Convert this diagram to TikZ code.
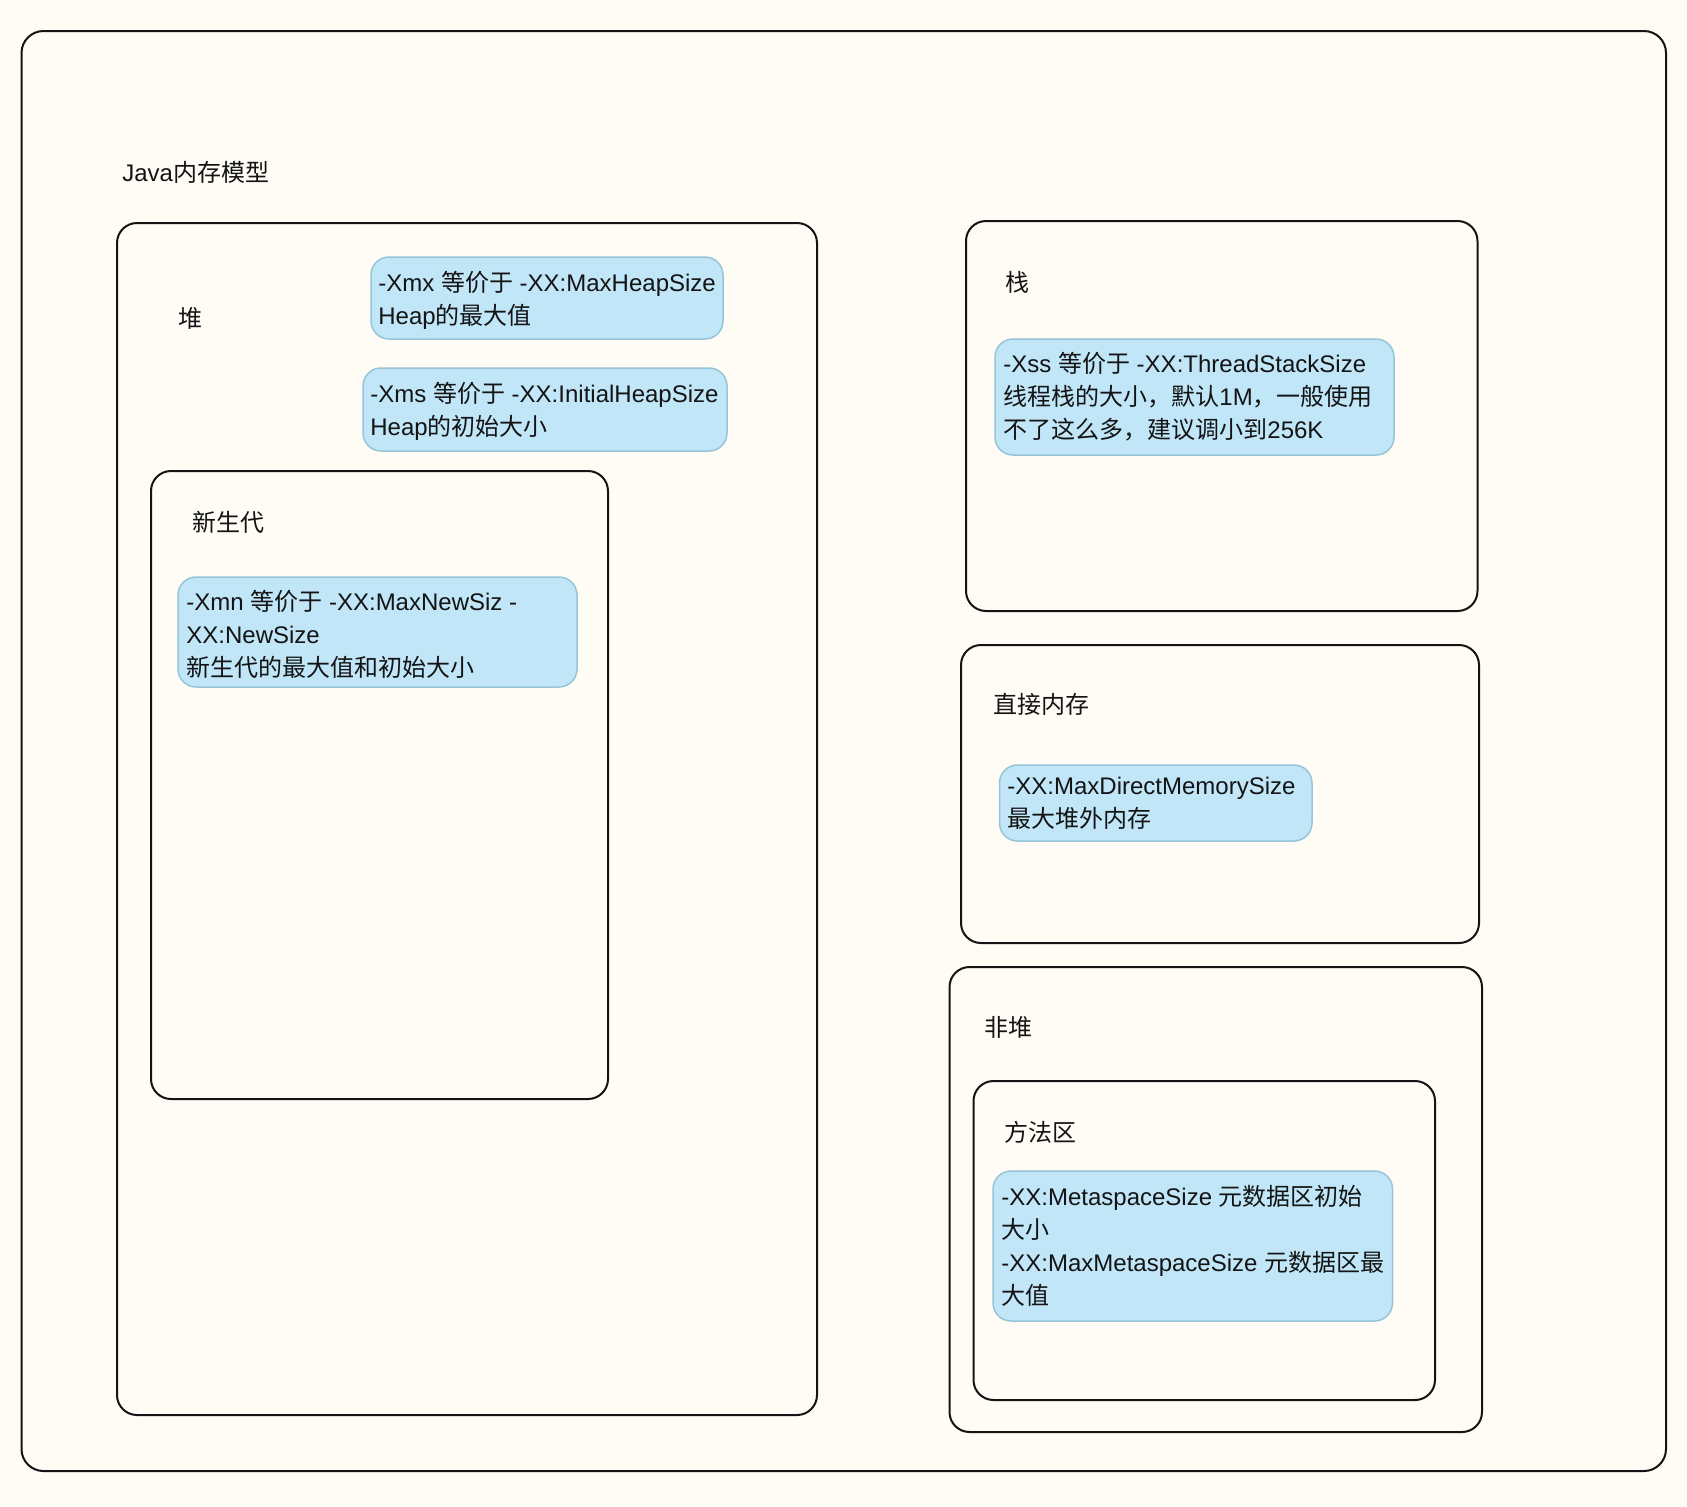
\documentclass[tikz,border=0pt]{standalone}
\usepackage{fontspec}
\setmainfont{Liberation Sans}
\newfontfamily\zhfont{Noto Sans CJK SC}
\usetikzlibrary{fit}
\definecolor{bgcol}{RGB}{254,252,245}
\definecolor{bluefill}{RGB}{192,230,248}
\definecolor{blueline}{RGB}{152,196,216}
\definecolor{inkcol}{RGB}{20,20,20}
\newcommand\zh[1]{{\zhfont #1}}
\newcommand\topstrut{\rule{0pt}{11pt}}
\begin{document}
\begin{tikzpicture}[x=0.5pt,y=-0.5pt,
  container/.style={draw=inkcol, line width=1pt, rounded corners=10pt, inner sep=0pt},
  outerbox/.style={draw=inkcol, line width=1pt, rounded corners=11pt, inner sep=0pt},
  bluebox/.style={draw=blueline, fill=bluefill, line width=0.75pt, rounded corners=9pt, inner sep=0pt},
  lbl/.style={inner sep=0pt, anchor=base west, text=inkcol, font=\fontsize{12pt}{16.5pt}\selectfont},
  para/.style={inner sep=0pt, anchor=north west, align=left, text=inkcol, font=\fontsize{12pt}{16.5pt}\selectfont},
]
\fill[bgcol] (0,0) rectangle (1687,1506);
\useasboundingbox (0,0) rectangle (1687,1506);

% containers
\node[outerbox, fit={(21.5,31) (1666,1471)}] (outer) {};
\node[container, fit={(117,223) (817,1415)}] (heap) {};
\node[container, fit={(151,471) (608,1099)}] (young) {};
\node[container, fit={(966,221) (1477.5,611)}] (stack) {};
\node[container, fit={(961,645) (1479,943)}] (direct) {};
\node[container, fit={(949.5,967) (1482,1432)}] (nonheap) {};
\node[container, fit={(973.5,1081) (1435,1400)}] (method) {};

% blue parameter boxes
\node[bluebox, fit={(371,257) (723,339)}] (xmxbox) {};
\node[bluebox, fit={(363,368) (727,451)}] (xmsbox) {};
\node[bluebox, fit={(178,577) (577,687)}] (xmnbox) {};
\node[bluebox, fit={(995,339) (1394,455)}] (xssbox) {};
\node[bluebox, fit={(999.5,765) (1312,841)}] (dmbox) {};
\node[bluebox, fit={(993,1171) (1392.5,1321)}] (metabox) {};

% labels
\node[lbl] (title) at (122,181) {Java\zh{内存模型}};
\node[lbl] (heaplbl) at (178,327) {\zh{堆}};
\node[lbl] (younglbl) at (192,531) {\zh{新生代}};
\node[lbl] (stacklbl) at (1005,291) {\zh{栈}};
\node[lbl] (directlbl) at (993.5,713) {\zh{直接内存}};
\node[lbl] (nonheaplbl) at (984,1036) {\zh{非堆}};
\node[lbl] (methodlbl) at (1004,1141) {\zh{方法区}};

% parameter texts
\node[para] (xmxtext) at (378,269) {\topstrut-Xmx \zh{等价于} -XX:MaxHeapSize\\Heap\zh{的最大值}};
\node[para] (xmstext) at (370,380) {\topstrut-Xms \zh{等价于} -XX:InitialHeapSize\\Heap\zh{的初始大小}};
\node[para] (xmntext) at (186,588) {\topstrut-Xmn \zh{等价于} -XX:MaxNewSiz -\\XX:NewSize\\\zh{新生代的最大值和初始大小}};
\node[para] (xsstext) at (1003,350) {\topstrut-Xss \zh{等价于} -XX:ThreadStackSize\\\zh{线程栈的大小，默认}1M\zh{，一般使用}\\\zh{不了这么多，建议调小到}256K};
\node[para] (dmtext) at (1007,772) {\topstrut-XX:MaxDirectMemorySize\\\zh{最大堆外内存}};
\node[para] (metatext) at (1001,1183) {\topstrut-XX:MetaspaceSize \zh{元数据区初始}\\\zh{大小}\\-XX:MaxMetaspaceSize \zh{元数据区最}\\\zh{大值}};
\end{tikzpicture}
\end{document}
